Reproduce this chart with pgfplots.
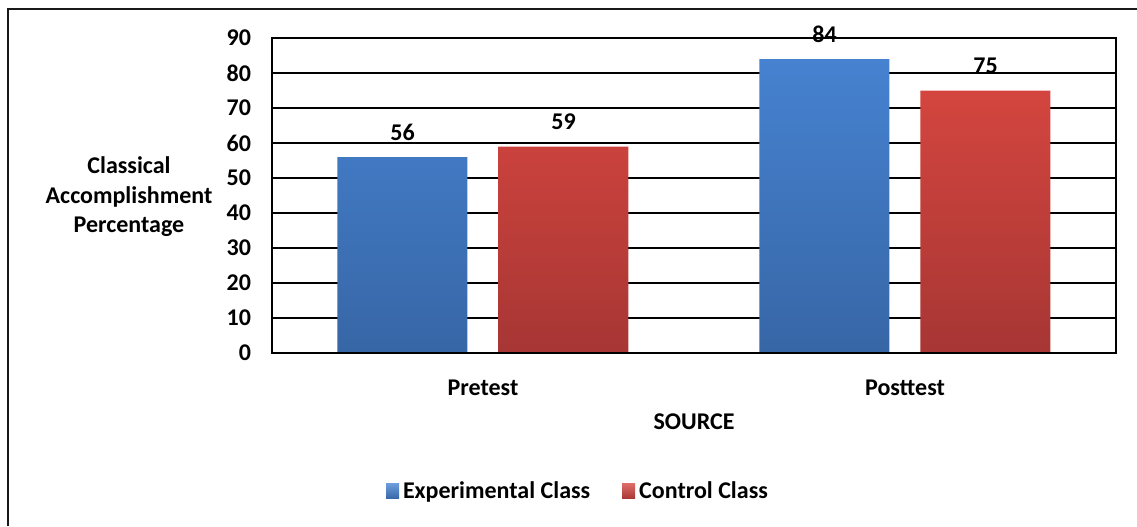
\documentclass[border=0pt]{standalone}
\usepackage{fontspec}
\setmainfont{Carlito}
\usepackage{pgfplots}
\pgfplotsset{compat=1.18}
\definecolor{blueT}{HTML}{4682D0}
\definecolor{blueB}{HTML}{3766A6}
\definecolor{redT}{HTML}{D4453F}
\definecolor{redB}{HTML}{A73634}
\begin{document}
\begin{tikzpicture}[font=\bfseries\fontsize{12}{14}\selectfont]
\path[use as bounding box] (-136pt,-86.5pt) rectangle (432.5pt,176.5pt);
\draw[line width=1pt,black!90] (-132pt,-86.5pt) -- (-132pt,172pt) -- (432.5pt,172pt);
\begin{axis}[
  at={(0,0)}, anchor=south west,
  scale only axis, width=422pt, height=157.5pt,
  xmin=-0.5, xmax=1.5, ymin=0, ymax=90,
  ybar=15.5pt, bar width=65pt,
  xtick={0,1}, xticklabels={Pretest,Posttest},
  ytick={0,10,...,90},
  tick style={draw=none},
  /pgf/number format/assume math mode=true,
  tick label style={font=\bfseries\fontsize{12}{14}\selectfont},
  yticklabel style={xshift=-7pt},
  xticklabel style={yshift=-5.5pt},
  ymajorgrids, grid style={black, line width=0.6pt},
  axis line style={black, line width=0.7pt},
  xlabel={SOURCE},
  xlabel style={at={(axis description cs:0.5,0)}, anchor=center, yshift=-34.5pt},
  nodes near coords,
  every node near coord/.append style={anchor=center, yshift=12.5pt, font=\bfseries\fontsize{12}{14}\selectfont, black},
  legend columns=2,
  legend style={draw=none, at={(axis description cs:0.3637,-0.441)}, anchor=center,
    font=\bfseries\fontsize{12}{14}\selectfont,
    /tikz/every even column/.append style={column sep=14pt}},
  legend cell align=left,
]
\addplot[draw=none, top color=blueT, bottom color=blueB,
  legend image code/.code={\fill[top color=blueT!80!white, bottom color=blueB] (0pt,-3.5pt) rectangle (6.5pt,4pt);}]
  coordinates {(0,56) (1,84)};
\addlegendentry{Experimental Class}
\addplot[draw=none, top color=redT, bottom color=redB,
  legend image code/.code={\fill[top color=redT!80!white, bottom color=redB] (0pt,-3.5pt) rectangle (6.5pt,4pt);}]
  coordinates {(0,59) (1,75)};
\addlegendentry{Control Class}
\draw[black, line width=1.3pt] (rel axis cs:0,0) -- (rel axis cs:1,0);
\end{axis}
\node[align=center, font=\bfseries\fontsize{12}{14.75}\selectfont] at (-71.5pt,78pt) {Classical\\Accomplishment\\Percentage};
\end{tikzpicture}
\end{document}
